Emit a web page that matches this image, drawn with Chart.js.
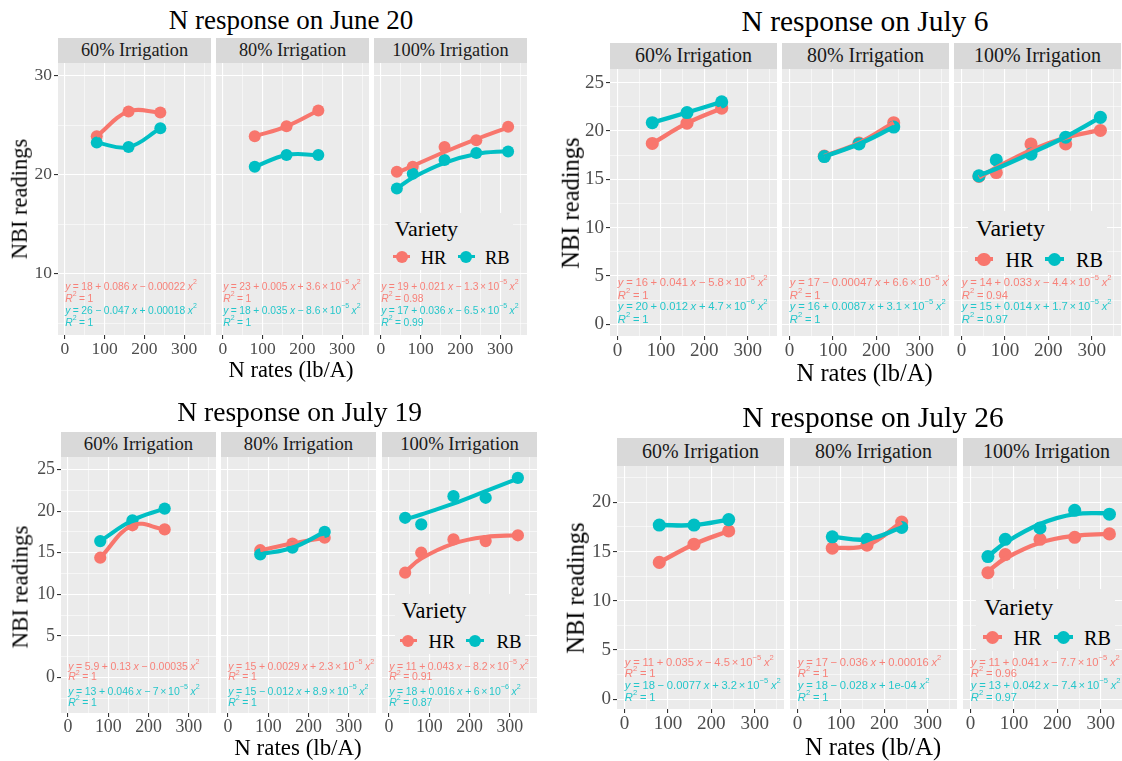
<!DOCTYPE html>
<html>
<head>
<meta charset="utf-8">
<script src="https://cdn.jsdelivr.net/npm/chart.js@4"></script>
<style>
html, body { margin: 0; padding: 0; background: #fff; }
#page { position: relative; width: 1122px; height: 761px; overflow: hidden; font-family: "Liberation Serif", "Times New Roman", serif; }
.txt { position: absolute; white-space: nowrap; line-height: 1; }
.strip { position: absolute; background: #D9D9D9; color: #1A1A1A; display: flex; align-items: center; justify-content: center; white-space: nowrap; line-height: 1; }
canvas { position: absolute; }
</style>
</head>
<body>
<div id="page"></div>
<script>
const HR_COLOR = "#F8766D";
const RB_COLOR = "#00BFC4";
const SERIF = '"Liberation Serif", "Times New Roman", serif';
const SANS = '"Liberation Sans", Arial, sans-serif';

const facetNames = ["60% Irrigation", "80% Irrigation", "100% Irrigation"];
const rates3 = [80, 160, 240];
const rates5 = [40, 80, 160, 240, 320];
const xTicks = [0, 50, 100, 150, 200, 250, 300, 350];
const xLabels = [0, 100, 200, 300];

// ===== June 20 =====
const jun20HR = [[23.9, 26.4, 26.3], [23.9, 24.9, 26.5], [20.3, 20.8, 22.8, 23.5, 24.85]];
const jun20RB = [[23.25, 22.8, 24.7], [20.8, 22.0, 22.0], [18.6, 20.1, 21.5, 22.2, 22.35]];
const jun20HRFit = [20.2, 20.9, 22.3, 23.6, 24.8];
const jun20RBFit = [18.6, 19.7, 21.2, 22.1, 22.4];
const jun20YTicks = [5, 10, 15, 20, 25, 30];
const jun20YLabels = [10, 20, 30];
const jun20Eq = [
  ["y = 18 + 0.086 x − 0.00022 x^2", "R^2 = 1", "y = 26 − 0.047 x + 0.00018 x^2", "R^2 = 1"],
  ["y = 23 + 0.005 x + 3.6 × 10^-5 x^2", "R^2 = 1", "y = 18 + 0.035 x − 8.6 × 10^-5 x^2", "R^2 = 1"],
  ["y = 19 + 0.021 x − 1.3 × 10^-5 x^2", "R^2 = 0.98", "y = 17 + 0.036 x − 6.5 × 10^-5 x^2", "R^2 = 0.99"]
];

// ===== July 6 =====
const jul6HR = [[18.7, 20.8, 22.35], [17.4, 18.75, 20.85], [15.3, 15.7, 18.65, 18.65, 20.05]];
const jul6RB = [[20.85, 21.9, 23.0], [17.35, 18.65, 20.4], [15.35, 17.0, 17.6, 19.35, 21.4]];
const jul6HRFit = [15.2, 16.2, 18.0, 19.3, 20.1];
const jul6RBFit = [15.4, 16.1, 17.7, 19.4, 21.4];
const jul6YTicks = [0, 2.5, 5, 7.5, 10, 12.5, 15, 17.5, 20, 22.5, 25];
const jul6YLabels = [0, 5, 10, 15, 20, 25];
const jul6Eq = [
  ["y = 16 + 0.041 x − 5.8 × 10^-5 x^2", "R^2 = 1", "y = 20 + 0.012 x + 4.7 × 10^-6 x^2", "R^2 = 1"],
  ["y = 17 − 0.00047 x + 6.6 × 10^-5 x^2", "R^2 = 1", "y = 16 + 0.0087 x + 3.1 × 10^-5 x^2", "R^2 = 1"],
  ["y = 14 + 0.033 x − 4.4 × 10^-5 x^2", "R^2 = 0.94", "y = 15 + 0.014 x + 1.7 × 10^-5 x^2", "R^2 = 0.97"]
];

// ===== July 19 =====
const jul19HR = [[14.4, 18.3, 17.8], [15.3, 16.1, 16.8], [12.6, 15.0, 16.6, 16.4, 17.1]];
const jul19RB = [[16.4, 18.9, 20.3], [14.8, 15.6, 17.5], [19.2, 18.4, 21.8, 21.6, 24.0]];
const jul19HRFit = [12.7, 14.3, 16.1, 16.9, 17.1];
const jul19RBFit = [19.0, 19.6, 20.9, 22.4, 23.9];
const jul19YTicks = [-2.5, 0, 2.5, 5, 7.5, 10, 12.5, 15, 17.5, 20, 22.5, 25];
const jul19YLabels = [0, 5, 10, 15, 20, 25];
const jul19Eq = [
  ["y = 5.9 + 0.13 x − 0.00035 x^2", "R^2 = 1", "y = 13 + 0.046 x − 7 × 10^-5 x^2", "R^2 = 1"],
  ["y = 15 + 0.0029 x + 2.3 × 10^-5 x^2", "R^2 = 1", "y = 15 − 0.012 x + 8.9 × 10^-5 x^2", "R^2 = 1"],
  ["y = 11 + 0.043 x − 8.2 × 10^-5 x^2", "R^2 = 0.91", "y = 18 + 0.016 x + 6 × 10^-6 x^2", "R^2 = 0.87"]
];

// ===== July 26 =====
const jul26HR = [[13.9, 15.75, 17.1], [15.35, 15.65, 18.0], [12.85, 14.7, 16.25, 16.45, 16.8]];
const jul26RB = [[17.7, 17.7, 18.25], [16.5, 16.25, 17.45], [14.5, 16.25, 17.4, 19.2, 18.8]];
const jul26HRFit = [13.0, 14.3, 15.9, 16.6, 16.8];
const jul26RBFit = [14.5, 15.9, 17.8, 18.8, 18.9];
const jul26YTicks = [0, 2.5, 5, 7.5, 10, 12.5, 15, 17.5, 20, 22.5];
const jul26YLabels = [0, 5, 10, 15, 20];
const jul26Eq = [
  ["y = 11 + 0.035 x − 4.5 × 10^-5 x^2", "R^2 = 1", "y = 18 − 0.0077 x + 3.2 × 10^-5 x^2", "R^2 = 1"],
  ["y = 17 − 0.036 x + 0.00016 x^2", "R^2 = 1", "y = 18 − 0.028 x + 1e-04 x^2", "R^2 = 1"],
  ["y = 11 + 0.041 x − 7.7 × 10^-5 x^2", "R^2 = 0.96", "y = 13 + 0.042 x − 7.4 × 10^-5 x^2", "R^2 = 0.97"]
];

// =================== LAYOUT ===================

const panels = [
  { title: "N response on June 20", s: 1.0, titleX: 291, titleY: 20,
    stripTop: 38, top: 63, bottom: 335, lefts: [58, 215.5, 374], w: 152.5,
    yMin: 3.8, yMax: 31.3, yTicks: jun20YTicks, yLabels: jun20YLabels,
    hr: jun20HR, rb: jun20RB, hrFit: jun20HRFit, rbFit: jun20RBFit, eq: jun20Eq,
    yTitle: [19.6, 199], xTitle: [291, 370],
    leg: { x: 394.6, y: 229, ky: 256.7, hrDot: 401.8, hrText: 420.7, rbDot: 466, rbText: 485 },
    eqY: [287, 299, 311, 323] },
  { title: "N response on July 6", s: 1.09, titleX: 865, titleY: 21.7,
    stripTop: 42.7, top: 69.3, bottom: 336.7, lefts: [609.5, 781.8, 954.1], w: 166.5,
    yMin: -1.2, yMax: 26.4, yTicks: jul6YTicks, yLabels: jul6YLabels,
    hr: jul6HR, rb: jul6RB, hrFit: jul6HRFit, rbFit: jul6RBFit, eq: jul6Eq,
    yTitle: [570.7, 203], xTitle: [864.7, 373],
    leg: { x: 975.8, y: 228.3, ky: 259.3, hrDot: 984, hrText: 1005.5, rbDot: 1054.6, rbText: 1076 },
    eqY: [283.3, 296, 307.3, 320] },
  { title: "N response on July 19", s: 1.02, titleX: 299.6, titleY: 411.7,
    stripTop: 431.7, top: 456.7, bottom: 712.7, lefts: [61.4, 221.4, 382], w: 155.4,
    yMin: -4.25, yMax: 26.5, yTicks: jul19YTicks, yLabels: jul19YLabels,
    hr: jul19HR, rb: jul19RB, hrFit: jul19HRFit, rbFit: jul19RBFit, eq: jul19Eq,
    yTitle: [21.4, 586.7], xTitle: [298, 748.3],
    leg: { x: 401.8, y: 610.7, ky: 640.7, hrDot: 408.2, hrText: 428.6, rbDot: 475, rbText: 496.4 },
    eqY: [666.7, 677.5, 691.7, 702.7] },
  { title: "N response on July 26", s: 1.09, titleX: 872.9, titleY: 418.3,
    stripTop: 438.3, top: 466, bottom: 709.3, lefts: [617.3, 790.1, 962.9], w: 166.7,
    yMin: -1.0, yMax: 23.7, yTicks: jul26YTicks, yLabels: jul26YLabels,
    hr: jul26HR, rb: jul26RB, hrFit: jul26HRFit, rbFit: jul26RBFit, eq: jul26Eq,
    yTitle: [576, 588.3], xTitle: [873, 746.7],
    leg: { x: 984, y: 606.7, ky: 637.3, hrDot: 992.6, hrText: 1013.4, rbDot: 1063.6, rbText: 1084 },
    eqY: [662.7, 674, 686, 698.3] }
];

const page = document.getElementById("page");

function addText(text, x, y, size, opts) {
  opts = opts || {};
  const d = document.createElement("div");
  d.className = "txt";
  d.textContent = text;
  d.style.left = x + "px";
  d.style.top = y + "px";
  d.style.fontSize = size + "px";
  d.style.color = opts.color || "#000";
  d.style.transform = opts.transform || "translate(-50%,-50%)";
  page.appendChild(d);
  return d;
}

function addBox(x, y, w, h, bg, radius) {
  const d = document.createElement("div");
  d.style.position = "absolute";
  d.style.left = x + "px";
  d.style.top = y + "px";
  d.style.width = w + "px";
  d.style.height = h + "px";
  d.style.background = bg;
  if (radius) d.style.borderRadius = radius;
  page.appendChild(d);
  return d;
}

// equation text with superscripts and italic x, y, R
function drawEq(ctx, str, x, y, size, color) {
  const parts = str.split(/(\^-?\d+|\b[xyR]\b| )/).filter(p => p);
  ctx.fillStyle = color;
  ctx.textBaseline = "middle";
  ctx.textAlign = "left";
  for (const p of parts) {
    let t = p;
    if (p === " ") {
      x += size * 0.24;
      continue;
    }
    if (p === "×") {
      ctx.font = size + "px " + SANS;
      ctx.fillText(t, x - size * 0.08, y);
      x += ctx.measureText(t).width - size * 0.16;
      continue;
    }
    if (p[0] === "^") {
      t = p.slice(1).replace("-", "\u2212");
      ctx.font = (size * 0.68) + "px " + SANS;
      ctx.fillText(t, x, y - size * 0.45);
    } else if (/^[xyR]$/.test(p)) {
      ctx.font = "italic " + size + "px " + SANS;
      ctx.fillText(t, x, y);
    } else {
      ctx.font = size + "px " + SANS;
      ctx.fillText(t, x, y);
    }
    x += ctx.measureText(t).width;
  }
}

function makeFacet(p, f) {
  const s = p.s;
  const yw = f === 0 ? 50 : 0;
  const xh = Math.round(28 * s);
  const left = Math.round(p.lefts[f] - yw);
  const top = Math.round(p.top);
  const plotH = Math.round(p.bottom - p.top);
  const cv = document.createElement("canvas");
  cv.width = Math.round(p.w + yw);
  cv.height = plotH + xh;
  cv.style.left = left + "px";
  cv.style.top = top + "px";
  page.appendChild(cv);

  const xs = f === 2 ? rates5 : rates3;
  const toXY = ys => ys.map((y, i) => ({ x: xs[i], y: y }));
  const hrFit = f === 2 ? p.hrFit : p.hr[f];
  const rbFit = f === 2 ? p.rbFit : p.rb[f];
  const eqs = p.eq[f];

  const facetPlugin = {
    id: "facetPanel",
    beforeDraw(chart) {
      const a = chart.chartArea;
      const ctx = chart.ctx;
      ctx.save();
      ctx.fillStyle = "#EBEBEB";
      ctx.fillRect(a.left, a.top, a.right - a.left, a.bottom - a.top);
      ctx.restore();
    },
    afterDatasetsDraw(chart) {
      const a = chart.chartArea;
      const ctx = chart.ctx;
      ctx.save();
      ctx.beginPath();
      ctx.rect(a.left, a.top, a.right - a.left, a.bottom - a.top);
      ctx.clip();
      const size = 10.3 * s;
      const tx = a.left + 0.047 * (a.right - a.left);
      const cols = ["rgba(248,118,109,0.9)", "rgba(248,118,109,0.9)", "rgba(0,191,196,0.85)", "rgba(0,191,196,0.85)"];
      eqs.forEach((e, i) => drawEq(ctx, e, tx, p.eqY[i] - top, size, cols[i]));
      ctx.restore();
    }
  };

  const isMajorX = c => c.tick && xLabels.includes(c.tick.value);
  const isMajorY = c => c.tick && p.yLabels.includes(c.tick.value);

  new Chart(cv, {
    type: "scatter",
    data: {
      datasets: [
        { data: toXY(rbFit), showLine: true, borderColor: RB_COLOR, borderWidth: 4 * s, pointRadius: 0, tension: 0.4, order: 0 },
        { data: toXY(hrFit), showLine: true, borderColor: HR_COLOR, borderWidth: 4 * s, pointRadius: 0, tension: 0.4, order: 1 },
        { data: toXY(p.rb[f]), showLine: false, pointRadius: 6 * s, pointBorderWidth: 0, backgroundColor: RB_COLOR, pointBackgroundColor: RB_COLOR, order: 2 },
        { data: toXY(p.hr[f]), showLine: false, pointRadius: 6 * s, pointBorderWidth: 0, backgroundColor: HR_COLOR, pointBackgroundColor: HR_COLOR, order: 3 }
      ]
    },
    options: {
      responsive: false,
      animation: false,
      devicePixelRatio: 1,
      events: [],
      layout: { padding: 0, autoPadding: false },
      plugins: { legend: { display: false }, tooltip: { enabled: false } },
      scales: {
        x: {
          type: "linear", min: -17.5, max: 367.5,
          afterBuildTicks: a => { a.ticks = xTicks.map(v => ({ value: v })); },
          afterFit: a => { a.height = xh; a.paddingLeft = 0; a.paddingRight = 0; },
          ticks: {
            autoSkip: false, maxRotation: 0, padding: 0, color: "#4D4D4D",
            font: { family: SERIF, size: 17.5 * s },
            callback: v => xLabels.includes(v) ? String(v) : ""
          },
          grid: {
            color: "#FFFFFF", lineWidth: c => isMajorX(c) ? 1.1 : 0.55,
            drawTicks: true, tickLength: 4, tickWidth: 1.1,
            tickColor: c => isMajorX(c) ? "#333333" : "rgba(0,0,0,0)"
          },
          border: { display: false }
        },
        y: {
          type: "linear", min: p.yMin, max: p.yMax,
          afterBuildTicks: a => { a.ticks = p.yTicks.map(v => ({ value: v })); },
          afterFit: a => { a.width = yw; a.paddingTop = 0; a.paddingBottom = 0; },
          ticks: {
            display: f === 0, autoSkip: false, padding: 2, color: "#4D4D4D",
            font: { family: SERIF, size: 17.5 * s },
            callback: v => p.yLabels.includes(v) ? String(v) : ""
          },
          grid: {
            color: "#FFFFFF", lineWidth: c => isMajorY(c) ? 1.1 : 0.55,
            drawTicks: f === 0, tickLength: 4, tickWidth: 1.1,
            tickColor: c => isMajorY(c) ? "#333333" : "rgba(0,0,0,0)"
          },
          border: { display: false }
        }
      }
    },
    plugins: [facetPlugin]
  });
}

panels.forEach(p => {
  const s = p.s;
  addText(p.title, p.titleX, p.titleY, 27 * s);

  p.lefts.forEach((L, f) => {
    const st = document.createElement("div");
    st.className = "strip";
    st.textContent = facetNames[f];
    st.style.left = Math.round(L) + "px";
    st.style.top = Math.round(p.stripTop) + "px";
    st.style.width = Math.round(p.w) + "px";
    st.style.height = (Math.round(p.top) - Math.round(p.stripTop)) + "px";
    st.style.fontSize = (18.3 * s) + "px";
    page.appendChild(st);
    makeFacet(p, f);
  });

  addText("N rates (lb/A)", p.xTitle[0], p.xTitle[1], 22.5 * s);
  addText("NBI readings", p.yTitle[0], p.yTitle[1], 22.5 * s, { transform: "translate(-50%,-50%) rotate(-90deg)" });

  // legend inside the 100% facet
  const g = p.leg;
  const bx = g.x - 7 * s, by = g.y - 16 * s;
  addBox(bx, by, g.rbText + 28 * s - bx, g.ky + 13 * s - by, "#EBEBEB");
  addText("Variety", g.x, g.y, 22 * s, { transform: "translate(0,-50%)" });
  [[g.hrDot, g.hrText, "HR", HR_COLOR], [g.rbDot, g.rbText, "RB", RB_COLOR]].forEach(k => {
    addBox(k[0] - 8.5 * s, g.ky - 1.75 * s, 17 * s, 3.5 * s, k[3]);
    addBox(k[0] - 6 * s, g.ky - 6 * s, 12 * s, 12 * s, k[3], "50%");
    addText(k[2], k[1], g.ky + 1, 18.5 * s, { transform: "translate(0,-50%)" });
  });
});
</script>
</body>
</html>
